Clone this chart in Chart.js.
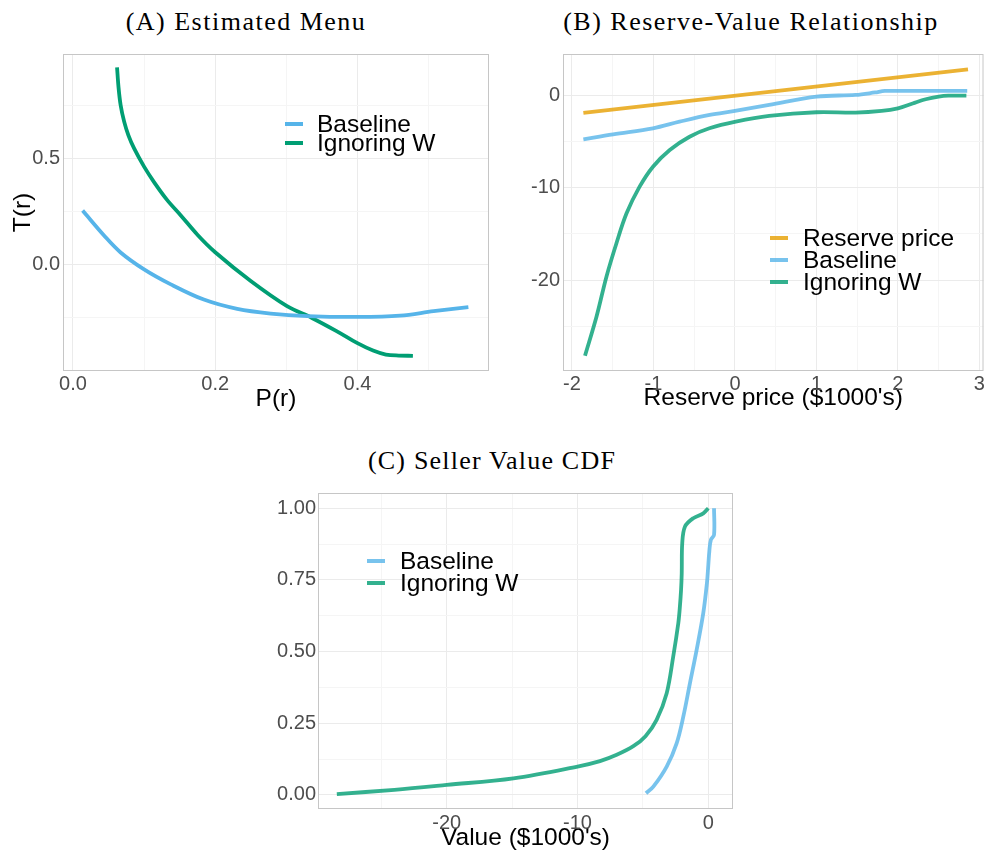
<!DOCTYPE html>
<html>
<head>
<meta charset="utf-8">
<script src="https://cdn.jsdelivr.net/npm/chart.js@4.4.0/dist/chart.umd.min.js"></script>
<style>
    body { margin: 0; background: #fff; width: 986px; height: 854px; position: relative; overflow: hidden; font-family: "Liberation Sans", Arial, sans-serif; }
    canvas { position: absolute; }
    .title { position: absolute; font-family: "Liberation Serif", serif; font-size: 26px; line-height: 30px; letter-spacing: 1.5px; white-space: nowrap; color: #000; transform: translateX(-50%); }
    .legend-row { position: absolute; font-size: 24.5px; line-height: 24.5px; white-space: nowrap; color: #000; }
    .legend-key { position: absolute; height: 4px; width: 18px; }
</style>
</head>
<body>
<div class="title" style="left:246px; top:7px;">(A) Estimated Menu</div>
<div class="title" style="left:751px; top:7px;">(B) Reserve-Value Relationship</div>
<div class="title" style="left:492px; top:446px; letter-spacing:1.2px;">(C) Seller Value CDF</div>
<canvas id="menuChart" width="495" height="420" style="left:0; top:0;"></canvas>
<canvas id="reserveChart" width="491" height="420" style="left:495px; top:0;"></canvas>
<canvas id="cdfChart" width="500" height="414" style="left:240px; top:440px;"></canvas>
<div id="legends"></div>
<script>
// (A) Estimated Menu
const menuBaselineP = [0.0136, 0.044, 0.067, 0.100, 0.1376, 0.184, 0.231, 0.278, 0.330, 0.400, 0.460, 0.507, 0.556];
const menuBaselineT = [0.254, 0.135, 0.056, -0.024, -0.095, -0.167, -0.211, -0.233, -0.245, -0.249, -0.243, -0.222, -0.203];
const menuIgnoringP = [0.062, 0.064, 0.067, 0.072, 0.078, 0.086, 0.100, 0.114, 0.132, 0.152, 0.175, 0.200, 0.250, 0.301, 0.336, 0.370, 0.400, 0.422, 0.440, 0.458, 0.478];
const menuIgnoringT = [0.932, 0.840, 0.754, 0.675, 0.610, 0.548, 0.462, 0.389, 0.306, 0.230, 0.140, 0.057, -0.079, -0.198, -0.254, -0.315, -0.373, -0.408, -0.427, -0.432, -0.433];
const menuXTicks = [0, 0.1, 0.2, 0.3, 0.4, 0.5];
const menuXLabels = [0, 0.2, 0.4];
const menuYTicks = [-0.25, 0, 0.25, 0.5, 0.75];
const menuYLabels = [0, 0.5];

// (B) Reserve-Value Relationship
const reservePriceX = [-1.86, 2.86];
const reservePriceY = [-1.86, 2.86];
const relBaselineX = [-1.86, -1.495, -1.006, -0.68, -0.31, 0.0, 0.42, 1.0, 1.48, 1.72, 1.84, 2.2, 2.85];
const relBaselineY = [-4.73, -4.19, -3.54, -2.82, -2.09, -1.66, -1.0, -0.1, 0.08, 0.35, 0.51, 0.51, 0.51];
const relIgnoringX = [-1.84, -1.70, -1.576, -1.454, -1.33, -1.17, -1.006, -0.80, -0.557, -0.313, 0.01, 0.42, 1.0, 1.48, 1.8, 2.0, 2.18, 2.34, 2.5, 2.62, 2.84];
const relIgnoringY = [-28.2, -24.0, -19.6, -16.0, -12.76, -9.87, -7.7, -5.89, -4.45, -3.54, -2.82, -2.2, -1.8, -1.84, -1.66, -1.37, -0.85, -0.39, -0.1, 0.0, 0.0];
const relXTicks = [-2, -1.5, -1, -0.5, 0, 0.5, 1, 1.5, 2, 2.5, 3];
const relXLabels = [-2, -1, 0, 1, 2, 3];
const relYTicks = [-25, -20, -15, -10, -5, 0];
const relYLabels = [-20, -10, 0];

// (C) Seller Value CDF
const cdfBaselineX = [-4.76, -4.2, -3.18, -2.42, -1.91, -1.40, -0.89, -0.38, -0.1, 0.0, 0.08, 0.2, 0.44, 0.44];
const cdfBaselineY = [0.006, 0.029, 0.099, 0.18, 0.273, 0.39, 0.506, 0.635, 0.74, 0.80, 0.85, 0.89, 0.907, 1.0];
const cdfIgnoringX = [-28.4, -24, -20, -14.9, -10, -8.28, -7.0, -5.73, -4.8, -3.95, -3.18, -2.68, -2.29, -2.18, -2.08, -2.03, -1.99, -1.78, -1.15, -0.38, 0];
const cdfIgnoringY = [0.003, 0.018, 0.035, 0.058, 0.099, 0.118, 0.14, 0.17, 0.205, 0.262, 0.355, 0.483, 0.60, 0.651, 0.716, 0.773, 0.878, 0.936, 0.965, 0.982, 1.0];
const cdfXTicks = [-25, -20, -15, -10, -5, 0];
const cdfXLabels = [-20, -10, 0];
const cdfYTicks = [0, 0.125, 0.25, 0.375, 0.5, 0.625, 0.75, 0.875, 1];
const cdfYLabels = [0, 0.25, 0.5, 0.75, 1];

const sansFont = '"Liberation Sans", Arial, sans-serif';

function toPoints(xs, ys) {
    return xs.map((x, i) => ({ x: x, y: ys[i] }));
}

function isLabel(labels, v) {
    return labels.some(l => Math.abs(l - v) < 1e-9);
}

// ggplot-like axis: major + minor grid, labels on majors only, fixed thickness
function makeScale(cfg) {
    return {
        type: 'linear',
        min: cfg.min,
        max: cfg.max,
        afterBuildTicks: axis => { axis.ticks = cfg.ticks.map(v => ({ value: v })); },
        afterFit: axis => {
            if (cfg.isX) axis.height = cfg.size;
            else axis.width = cfg.size;
        },
        grid: {
            drawTicks: false,
            color: ctx => isLabel(cfg.labels, ctx.tick.value) ? '#EBEBEB' : '#F5F5F5',
            lineWidth: 1
        },
        border: { display: false },
        ticks: {
            autoSkip: false,
            maxRotation: 0,
            padding: cfg.tickPad,
            color: '#4D4D4D',
            font: { family: sansFont, size: 20 },
            callback: value => isLabel(cfg.labels, value) ? cfg.fmt(value) : ''
        },
        title: {
            display: !!cfg.title,
            text: cfg.title || '',
            color: '#000',
            font: { family: sansFont, size: 24.5 },
            padding: cfg.titlePad || 0
        }
    };
}

const panelBorder = {
    id: 'panelBorder',
    afterDraw(chart) {
        const { ctx, chartArea: a } = chart;
        ctx.save();
        ctx.strokeStyle = '#C6C6C6';
        ctx.lineWidth = 1;
        ctx.strokeRect(a.left + 0.5, a.top + 0.5, a.right - a.left - 1, a.bottom - a.top - 1);
        ctx.restore();
    }
};

function lineSet(label, color, xs, ys) {
    return {
        label: label,
        data: toPoints(xs, ys),
        borderColor: color,
        backgroundColor: color,
        borderWidth: 3.8,
        pointRadius: 0,
        fill: false,
        tension: 0.35
    };
}

function baseOptions(padding, scales) {
    return {
        responsive: false,
        animation: false,
        layout: { padding: padding },
        plugins: { legend: { display: false }, tooltip: { enabled: false } },
        scales: scales
    };
}

// Panel A
const menuChart = new Chart(document.getElementById('menuChart'), {
    type: 'line',
    data: {
        datasets: [
            lineSet('Baseline', '#56B4E9', menuBaselineP, menuBaselineT),
            lineSet('Ignoring W', '#009E73', menuIgnoringP, menuIgnoringT)
        ]
    },
    options: baseOptions({ top: 54, right: 6, left: 0, bottom: 0 }, {
        x: makeScale({ isX: true, min: -0.014, max: 0.585, ticks: menuXTicks, labels: menuXLabels,
            fmt: v => v.toFixed(1), size: 49, tickPad: 1, title: 'P(r)', titlePad: { top: 0, bottom: 6 } }),
        y: makeScale({ isX: false, min: -0.505, max: 0.995, ticks: menuYTicks, labels: menuYLabels,
            fmt: v => v.toFixed(1), size: 63, tickPad: 3, title: 'T(r)', titlePad: { top: 9, bottom: 0 } })
    }),
    plugins: [panelBorder]
});

// Panel B
const reserveChart = new Chart(document.getElementById('reserveChart'), {
    type: 'line',
    data: {
        datasets: [
            lineSet('Reserve price', 'rgba(230,159,0,0.8)', reservePriceX, reservePriceY),
            lineSet('Baseline', 'rgba(86,180,233,0.8)', relBaselineX, relBaselineY),
            lineSet('Ignoring W', 'rgba(0,158,115,0.8)', relIgnoringX, relIgnoringY)
        ]
    },
    options: baseOptions({ top: 54, right: 1, left: 0, bottom: 0 }, {
        x: makeScale({ isX: true, min: -2.11, max: 3.05, ticks: relXTicks, labels: relXLabels,
            fmt: v => String(v), size: 49, tickPad: 1, title: "Reserve price ($1000's)", titlePad: { top: 0, bottom: 7 } }),
        y: makeScale({ isX: false, min: -29.86, max: 4.52, ticks: relYTicks, labels: relYLabels,
            fmt: v => String(v), size: 68, tickPad: 3 })
    }),
    plugins: [panelBorder]
});

// Panel C (CDF: value on x, probability on y)
const cdfChart = new Chart(document.getElementById('cdfChart'), {
    type: 'line',
    data: {
        datasets: [
            lineSet('Baseline', 'rgba(86,180,233,0.8)', cdfBaselineX, cdfBaselineY),
            lineSet('Ignoring W', 'rgba(0,158,115,0.8)', cdfIgnoringX, cdfIgnoringY)
        ]
    },
    options: baseOptions({ top: 53, right: 7, left: 0, bottom: 0 }, {
        x: makeScale({ isX: true, min: -29.84, max: 1.89, ticks: cdfXTicks, labels: cdfXLabels,
            fmt: v => String(v), size: 45, tickPad: 2, title: "Value ($1000's)", titlePad: { top: 0, bottom: 1 } }),
        y: makeScale({ isX: false, min: -0.049, max: 1.053, ticks: cdfYTicks, labels: cdfYLabels,
            fmt: v => v.toFixed(2), size: 78, tickPad: 2 })
    }),
    plugins: [panelBorder]
});

// Legends placed inside the panels, built from each chart's datasets
function addLegend(chart, keyLeft, textLeft, rowCenters) {
    const holder = document.getElementById('legends');
    chart.data.datasets.forEach((ds, i) => {
        const key = document.createElement('div');
        key.className = 'legend-key';
        key.style.background = ds.borderColor;
        key.style.left = keyLeft + 'px';
        key.style.top = (rowCenters[i] - 2) + 'px';
        holder.appendChild(key);
        const row = document.createElement('div');
        row.className = 'legend-row';
        row.textContent = ds.label;
        row.style.left = textLeft + 'px';
        row.style.top = (rowCenters[i] - 12) + 'px';
        holder.appendChild(row);
    });
}

addLegend(menuChart, 285, 317, [124, 143]);
addLegend(reserveChart, 770, 803, [238, 260, 282]);
addLegend(cdfChart, 367, 400, [561, 583]);
</script>
</body>
</html>
